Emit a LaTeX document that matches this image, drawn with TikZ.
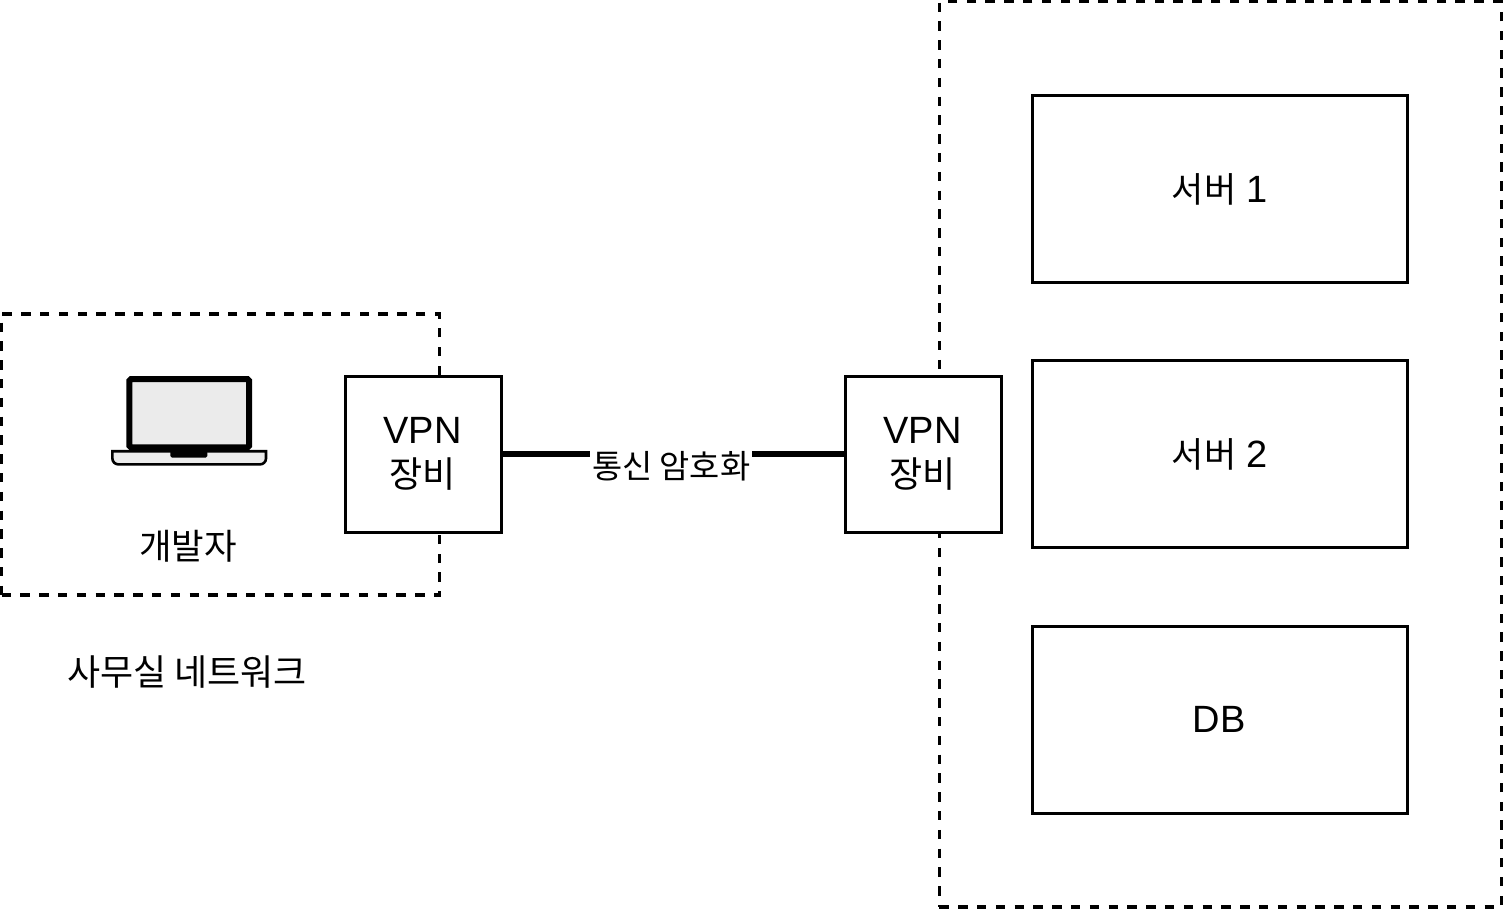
\documentclass[tikz,border=0pt]{standalone}
\usepackage{fontspec}
\setmainfont{Liberation Sans}
\newfontfamily\cjk{Noto Sans CJK KR}
\tikzset{
  zone/.style={draw, line width=1.6pt, dash pattern=on 4.7pt off 4.7pt, outer sep=0pt, anchor=north west},
  box/.style={draw, line width=1.6pt, fill=white, align=center, font=\fontsize{19}{22}\selectfont},
  lbl/.style={font=\cjk\fontsize{17.7}{21}\selectfont, inner sep=0pt},
}
\begin{document}
\begin{tikzpicture}[x=1pt, y=-1pt]
        \useasboundingbox (0,0) rectangle (751.5,454.5);
        % dashed networks
        \node[zone, minimum width=219pt, minimum height=140.5pt] (office) at (0.8,157) {};
        \node[zone, minimum width=281pt, minimum height=452.7pt] (dc) at (469.7,0.8) {};

        % laptop
        \node[draw, line width=3pt, rounded corners=0.8pt, outer sep=0pt, fill=black!8, minimum width=59.8pt, minimum height=34.2pt, anchor=north west, inner sep=0pt] (screen) at (64.7,189.5) {};
        \draw[line width=1.3pt, fill=black!8] (56.2,225.6) {[rounded corners=3pt] -- (56.2,232.2) -- (133,232.2)} -- (133,225.6) -- cycle;
        \node[fill=black, rounded corners=0.8pt, minimum width=18.5pt, minimum height=3.4pt, inner sep=0pt, anchor=north] (notch) at (94.4,225.2) {};
        \node[lbl] (dev) at (94,273.3) {\cjk 개발자};
        \node[lbl, font=\cjk\fontsize{18}{21}\selectfont] (office label) at (93.5,335.9) {\cjk 사무실 네트워크};

        % vpn
        \node[box, minimum width=78pt, minimum height=78pt] (vpn1) at (211.7,227.2) {};
        \node[yshift=0.5pt, align=center, font=\fontsize{19}{22}\selectfont, inner sep=0pt] (vpn1 text) at (211.2,227.2) {VPN\\{\cjk\fontsize{18}{21}\selectfont 장비}};
        \node[box, minimum width=78pt, minimum height=78pt] (vpn2) at (461.7,227.2) {};
        \node[yshift=0.5pt, align=center, font=\fontsize{19}{22}\selectfont, inner sep=0pt] (vpn2 text) at (461.2,227.2) {VPN\\{\cjk\fontsize{18}{21}\selectfont 장비}};
        \draw[line width=3pt] (vpn1) -- (vpn2);
        \node[lbl, font=\cjk\fontsize{16.4}{20}\selectfont, fill=white, inner xsep=0.8pt, inner ysep=1pt] (enc) at (335.6,232.9) {\cjk 통신 암호화};

        % servers
        \node[box, minimum width=187.5pt, minimum height=93.5pt] (srv1) at (610,94.5) {{\cjk\fontsize{17.5}{21}\selectfont 서버} 1};
        \node[box, minimum width=187.5pt, minimum height=93.5pt] (srv2) at (610,227.1) {{\cjk\fontsize{17.5}{21}\selectfont 서버} 2};
        \node[box, minimum width=187.5pt, minimum height=93.5pt] (db) at (610,360) {\raisebox{0.4pt}{DB}\hspace{1pt}};
        \end{tikzpicture}
\end{document}
